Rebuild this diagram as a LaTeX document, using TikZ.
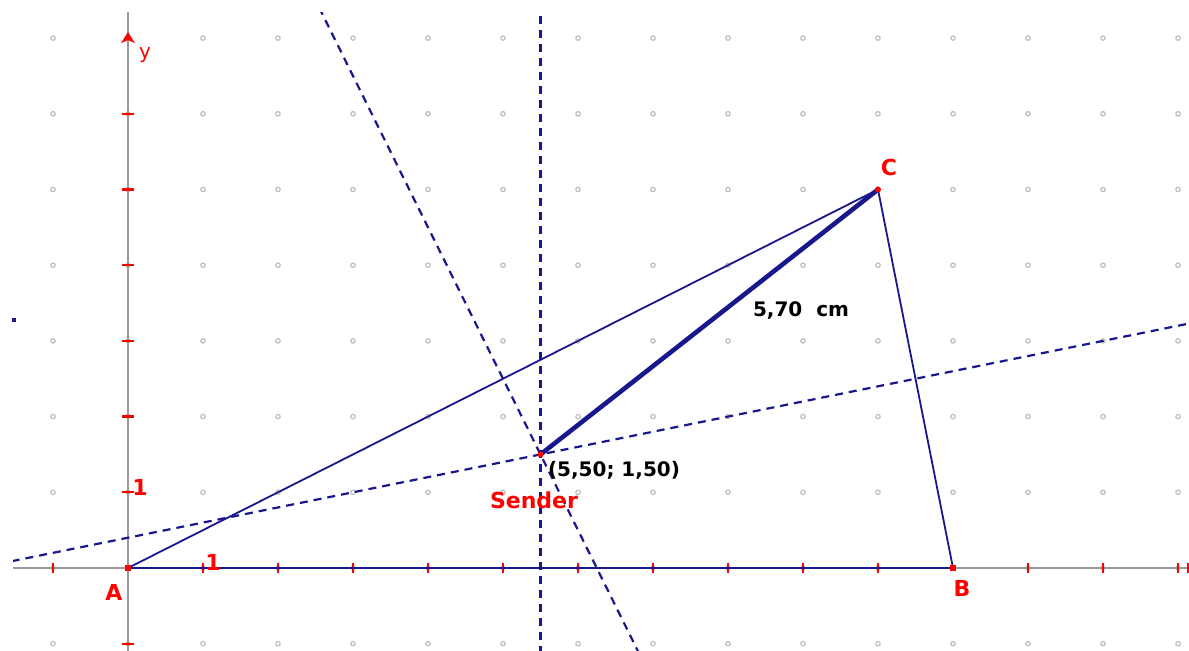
\documentclass[tikz,border=0pt]{standalone}
\usepackage{fontspec}
\setmainfont{DejaVu Sans}
\usetikzlibrary{calc}
\definecolor{navy}{RGB}{24,24,140}
\definecolor{ptred}{RGB}{255,0,0}
\definecolor{axisgray}{RGB}{155,155,155}
\definecolor{dotgray}{RGB}{190,190,190}
\tikzset{
  axisline/.style={axisgray, line width=1.4pt},
  tickmark/.style={ptred, line width=1.1pt},
  gdot/.style={dotgray, line width=0.6pt},
  bisector/.style={navy, line width=1.1pt, dash pattern=on 4pt off 3pt},
  side/.style={navy, line width=0.9pt},
  baseside/.style={navy, line width=1.2pt},
  radius/.style={navy, line width=2.3pt},
  redlabel/.style={ptred, inner sep=0pt, font=\fontsize{11}{13}\selectfont\bfseries},
  blacklabel/.style={black, inner sep=0pt, font=\fontsize{10}{12}\selectfont\bfseries},
  ptmark/.style={fill=ptred, draw=none}
}
\begin{document}
\begin{tikzpicture}[x=37.5pt,y=37.85pt]
\useasboundingbox (-1.7067,-1.0964) rectangle (14.1467,7.5033);
\fill[white] (-1.7067,-1.0964) rectangle (14.1467,7.5033);
\coordinate (A) at (0,0);
\coordinate (B) at (11,0);
\coordinate (C) at (10,5);
\coordinate (S) at (5.5,1.5);
\begin{scope}
\clip (-1.5333,-1.0964) rectangle (14.1467,7.3316);
% grid dots
\foreach \i in {-1,...,14}
  \foreach \j in {-1,...,7}
    \draw[gdot] (\i,\j) circle (1.1pt);
% axes
\draw[axisline] (-1.6,0) -- (14.3,0);
\draw[axisline] (0,-1.2) -- (0,7.5);
\foreach \i in {-1,1,2,3,4,5,6,7,8,9,10,12,13,14}
  \draw[tickmark] ($(\i,0)+(0,-2.6pt)$) -- ($(\i,0)+(0,2.6pt)$);
\foreach \j in {-1,1,2,3,4,5,6}
  \draw[tickmark] ($(0,\j)+(-3pt,0)$) -- ($(0,\j)+(3pt,0)$);
\fill[ptred] ($(0,7)+(-3.5pt,-2.5pt)$) -- ($(0,7)+(0,3pt)$) -- ($(0,7)+(3.5pt,-2.5pt)$) -- ($(0,7)+(0,-1pt)$) -- cycle;
\fill[ptred] ($(14.16,0)+(-1.5pt,-2.5pt)$) rectangle ($(14.16,0)+(1.5pt,2.5pt)$);
% perpendicular bisectors
\draw[bisector] ($(S)+(0,-3)$) -- ($(S)+(0,6.2)$);
\draw[bisector] ($(S)+(-3.2,6.4)$) -- ($(S)+(1.6,-3.2)$);
\draw[bisector] ($(S)+(-7.6,-1.52)$) -- ($(S)+(9,1.8)$);
% triangle
\draw[baseside] (A) -- (B);
\draw[side] (B) -- (C);
\draw[side] (A) -- (C);
\draw[radius] (S) -- (C);
% points
\fill[ptmark] ($(A)+(-1.6pt,-1.6pt)$) rectangle ($(A)+(1.6pt,1.6pt)$);
\fill[ptmark] ($(B)+(-1.6pt,-1.6pt)$) rectangle ($(B)+(1.6pt,1.6pt)$);
\fill[ptmark] (C) circle (1.5pt);
\fill[ptmark] (S) circle (1.5pt);
\end{scope}
\fill[navy] ($(-1.52,3.276)+(-0.8pt,-0.8pt)$) rectangle ($(-1.52,3.276)+(0.8pt,0.8pt)$);
% labels
\node[redlabel] (lC) at (10.147,5.284) {C};
\node[redlabel] (lA) at (-0.187,-0.317) {A};
\node[redlabel] (lB) at (11.12,-0.277) {B};
\node[redlabel] (ly1) at (0.16,1.07) {1};
\node[redlabel] (lx1) at (1.133,0.079) {1};
\node[ptred, inner sep=0pt, font=\fontsize{10}{12}\selectfont] (ly) at (0.227,6.777) {y};
\node[redlabel] (lS) at (5.413,0.898) {Sender};
\node[blacklabel] (lcoord) at (6.48,1.295) {(5,50; 1,50)};
\node[blacklabel] (ldist) at (8.973,3.408) {5,70\ \ cm};
\end{tikzpicture}
\end{document}
